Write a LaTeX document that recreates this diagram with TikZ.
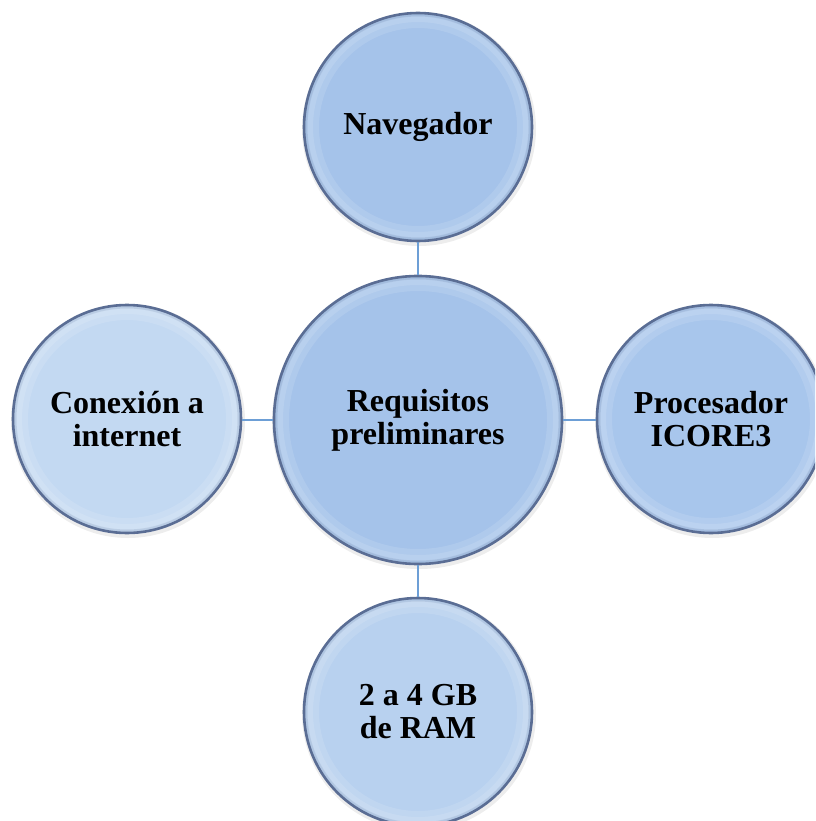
\documentclass[tikz,border=0pt]{standalone}
\usepackage{fontspec}
\setmainfont{Liberation Serif}
\definecolor{rimblue}{HTML}{5A6D94}
\definecolor{linkblue}{HTML}{6D9FD6}
\definecolor{fillA}{HTML}{A5C3EA}
\definecolor{fillB}{HTML}{C3D9F2}
\definecolor{fillC}{HTML}{A8C6EC}
\definecolor{fillD}{HTML}{B8D1EF}
\tikzset{
  bubble/.style={circle, draw=rimblue, line width=2.6pt, minimum size=#1,
    inner sep=0pt, align=center,
    font=\bfseries\fontsize{32}{33}\selectfont,
    path picture={
      % soft bevel just inside the rim
      \draw[white, opacity=.12, line width=14pt]
        (path picture bounding box.center) circle ({#1/2-8pt});
      \draw[white, opacity=.12, line width=6pt]
        (path picture bounding box.center) circle ({#1/2-6pt});
      \draw[rimblue, opacity=.15, line width=3pt]
        (path picture bounding box.center) circle ({#1/2-2pt});
    }},
  halo/.style={draw=black!35, opacity=.2, line width=4pt},
  link/.style={draw=linkblue, line width=2pt}
}
\begin{document}
\begin{tikzpicture}[x=1pt,y=-1pt]
  \useasboundingbox (0,0) rectangle (815,821);
  \clip (0,0) rectangle (815,821);
  % soft shadows around the bubbles
  \foreach \cx/\cy/\r in {418/127/114, 418/420/144, 127/419/114, 711/419/114, 418/712/114}
    \draw[halo] (\cx+1,\cy+2) circle (\r+1);
  % bubbles
  \node[bubble=228pt, fill=fillA] (nav) at (418,127) {Navegador};
  \node[bubble=288pt, fill=fillA] (req) at (418,420) {Requisitos\\preliminares};
  \node[bubble=228pt, fill=fillB] (con) at (127,419) {Conexión a\\internet};
  \node[bubble=228pt, fill=fillC] (pro) at (711,419) {Procesador\\ICORE3};
  \node[bubble=228pt, fill=fillD] (ram) at (418,712) {2 a 4 GB\\de RAM};
  % connectors
  \draw[link] (req) -- (nav);
  \draw[link] (req.west) -- (req.west -| con.east);
  \draw[link] (req.east) -- (req.east -| pro.west);
  \draw[link] (req) -- (ram);
\end{tikzpicture}
\end{document}
